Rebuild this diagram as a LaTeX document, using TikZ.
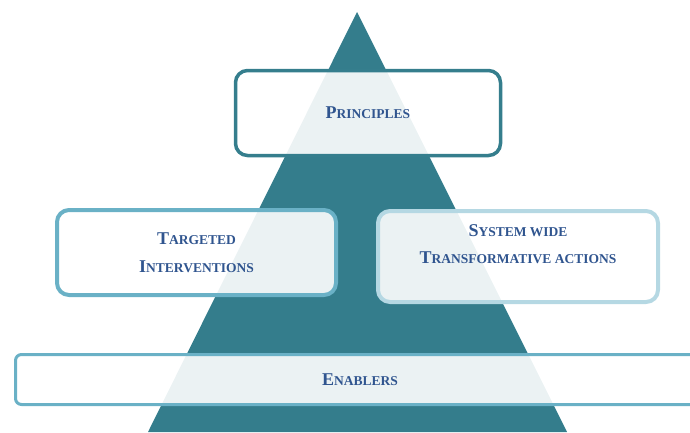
\documentclass[tikz,border=0pt]{standalone}
\usepackage{fontspec}
\setmainfont{Liberation Serif}
\definecolor{pyramid}{HTML}{347D8C}
\definecolor{rimdark}{HTML}{357E8D}
\definecolor{rimmid}{HTML}{6AB1C6}
\definecolor{rimpale}{HTML}{B5D8E3}
\definecolor{capsblue}{HTML}{30558F}
% small caps by hand: big initial, smaller rest
\newcommand{\fakesc}[2]{{\fontsize{18}{28}\selectfont #1}{\fontsize{13.5}{28}\selectfont #2}}
\tikzset{
  panel/.style={draw, fill=white, fill opacity=0.9, text opacity=1,
    rounded corners=12pt, line width=3.5pt, align=center, inner sep=0pt,
    font=\fontsize{13.5}{28}\selectfont\bfseries\color{capsblue}},
  caption/.style={align=center, inner sep=0pt,
    font=\fontsize{13.5}{27}\selectfont\bfseries\color{capsblue}}
}
\begin{document}
\begin{tikzpicture}[x=1pt, y=-1pt, line join=round]
  \useasboundingbox (0,0) rectangle (690,432);
  \clip (0,0) rectangle (690,432);
  \path
  (357,12) coordinate (T)
  (567,432) coordinate (R)
  (148,432) coordinate (L);
  \fill[pyramid] (T)--(R)--(L)--cycle;
  % boxes
  \node[panel, draw=rimdark, minimum width=265pt, minimum height=85pt]
    (principles) at (368,113) {\fakesc{P}{RINCIPLES}};
  \node[panel, draw=rimmid, line width=4pt, minimum width=279pt, minimum height=85pt]
    (targeted) at (196.5,252.5) {\fakesc{T}{ARGETED}\\\fakesc{I}{NTERVENTIONS}};
  \node[panel, draw=rimpale, line width=4pt, minimum width=280pt, minimum height=91pt]
    (system) at (518,256.5) {};
  \node[caption] (systemtext) at (518,244)
    {\fakesc{S}{YSTEM WIDE}\\\fakesc{T}{RANSFORMATIVE ACTIONS}};
  \node[panel, draw=rimmid, line width=3pt, rounded corners=6pt,
    minimum width=689pt, minimum height=50pt]
    (enablers) at (360,379.5) {\fakesc{E}{NABLERS}};
\end{tikzpicture}
\end{document}
